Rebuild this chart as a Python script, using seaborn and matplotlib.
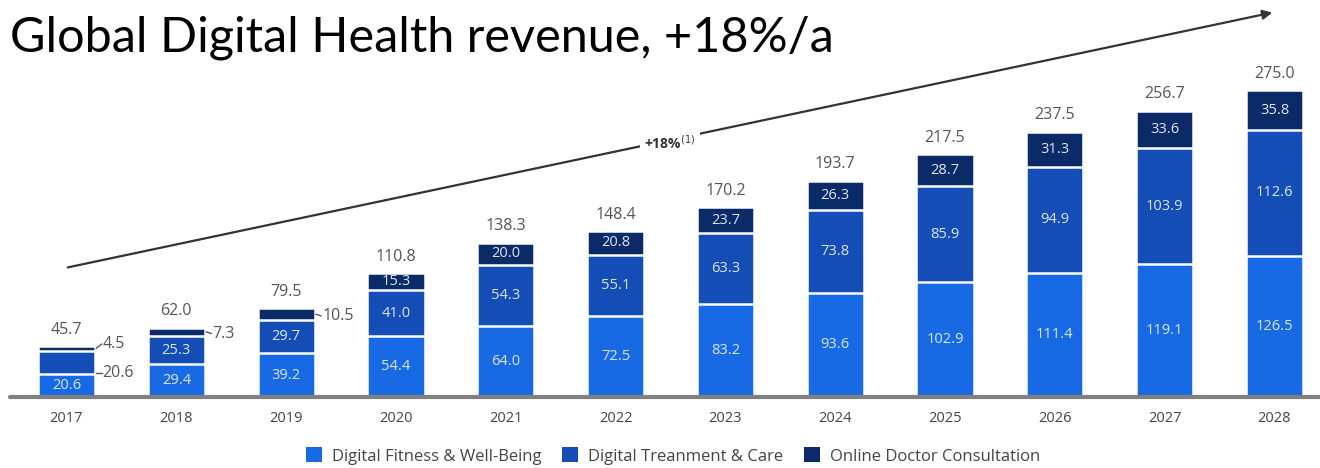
import matplotlib
matplotlib.use("Agg")
import matplotlib.pyplot as plt
import seaborn as sns
import numpy as np
import pandas as pd
from matplotlib.patches import Patch

# Revenue by segment, USD bn
years = ["2017", "2018", "2019", "2020", "2021", "2022", "2023", "2024", "2025", "2026", "2027", "2028"]
fitness = [20.6, 29.4, 39.2, 54.4, 64.0, 72.5, 83.2, 93.6, 102.9, 111.4, 119.1, 126.5]
treatment = [20.6, 25.3, 29.7, 41.0, 54.3, 55.1, 63.3, 73.8, 85.9, 94.9, 103.9, 112.6]
online = [4.5, 7.3, 10.5, 15.3, 20.0, 20.8, 23.7, 26.3, 28.7, 31.3, 33.6, 35.8]
totals = [45.7, 62.0, 79.5, 110.8, 138.3, 148.4, 170.2, 193.7, 217.5, 237.5, 256.7, 275.0]
segment_names = ["Digital Fitness & Well-Being", "Digital Treanment & Care", "Online Doctor Consultation"]
cagr_label = "+18%"
title = "Global Digital Health revenue, +18%/a"

c_fit = "#176AE3"
c_treat = "#144DB5"
c_online = "#0B2A68"
txt_gray = "#555555"

sns.set_theme(style="white")
plt.rcParams["font.family"] = ["Open Sans", "DejaVu Sans"]

W, H = 1320, 468
fig = plt.figure(figsize=(W / 100, H / 100), dpi=100)

base_px = 397
px_per_unit = 307 / 275.0
ax = fig.add_axes([0, (H - base_px) / H, 1, base_px / H])

df = pd.DataFrame({"year": years, "fitness": fitness, "treatment": treatment,
                   "online": online, "total": totals})
df["fit_treat"] = df["fitness"] + df["treatment"]
df["fit_treat_online"] = df["fit_treat"] + df["online"]

bar_w = 0.52
common = dict(x="year", ax=ax, width=bar_w, edgecolor="white", linewidth=1.8, saturation=1)
sns.barplot(data=df, y="fit_treat_online", color=c_online, **common)
sns.barplot(data=df, y="fit_treat", color=c_treat, **common)
sns.barplot(data=df, y="fitness", color=c_fit, **common)

spacing_px = (1274.5 - 66.5) / 11
ax.set_xlim(-66.5 / spacing_px, (W - 66.5) / spacing_px)
ax.set_ylim(0, base_px / px_per_unit)
for s in ax.spines.values():
    s.set_visible(False)
ax.set_yticks([])
ax.set_xlabel("")
ax.set_ylabel("")
ax.tick_params(axis="x", length=0, pad=10, labelsize=10.5, labelcolor="#444444")
ax.axhline(0, xmin=10 / W, xmax=1, color="#808080", lw=3, zorder=5, clip_on=False)

inside_kw = dict(ha="center", va="center", color="#DCE6F8", fontsize=10.5, zorder=6)
side_kw = dict(ha="left", va="center", color=txt_gray, fontsize=11.5, zorder=6)
outside = {0: ("online", "treatment"), 1: ("online",), 2: ("online",)}

for i in range(len(years)):
    f, t, o, tot = fitness[i], treatment[i], online[i], totals[i]
    ax.annotate(f"{tot:.1f}", (i, f + t + o), xytext=(0, 6), textcoords="offset points",
                ha="center", va="bottom", color=txt_gray, fontsize=11.5)
    ax.text(i, f / 2, f"{f:.1f}", **inside_kw)
    side = outside.get(i, ())
    if "treatment" in side:
        yy = f + 1
        ax.plot([i + bar_w / 2 + 0.01, i + bar_w / 2 + 0.06], [yy, yy], color=txt_gray, lw=1)
        ax.text(i + bar_w / 2 + 0.07, yy, f"{t:.1f}", **side_kw)
    else:
        ax.text(i, f + t / 2, f"{t:.1f}", **inside_kw)
    if "online" in side:
        yy = f + t + o / 2 + (4 if i == 0 else -1.5)
        ax.plot([i + bar_w / 2 + 0.01, i + bar_w / 2 + 0.06], [f + t + o / 2, yy], color=txt_gray, lw=1)
        ax.text(i + bar_w / 2 + 0.07, yy, f"{o:.1f}", **side_kw)
    else:
        ax.text(i, f + t + o / 2, f"{o:.1f}", **inside_kw)

# Growth arrow across the chart
ax.annotate("", xy=(1275, H - 12), xytext=(65, H - 268),
            xycoords="figure pixels", textcoords="figure pixels",
            arrowprops=dict(arrowstyle="-|>", color="#333333", lw=1.6, mutation_scale=14))
fig.text(670 / W, (H - 143) / H, cagr_label + r"$^{(1)}$", ha="center", va="center",
         fontsize=10, fontweight="bold", color="#333333",
         bbox=dict(boxstyle="square,pad=0.3", fc="white", ec="none"))

fig.text(10 / W, (H - 51) / H, title, ha="left", va="baseline",
         fontsize=35, color="black", family=["Lato", "DejaVu Sans"])

handles = [Patch(facecolor=c, edgecolor="none") for c in (c_fit, c_treat, c_online)]
fig.legend(handles, segment_names, loc="center", bbox_to_anchor=(673 / W, 12 / H),
           ncol=3, frameon=False, fontsize=12, handlelength=1.0, handleheight=1.0,
           handletextpad=0.6, columnspacing=1.2, labelcolor="#444444")

fig.savefig("out.png", dpi=100)
